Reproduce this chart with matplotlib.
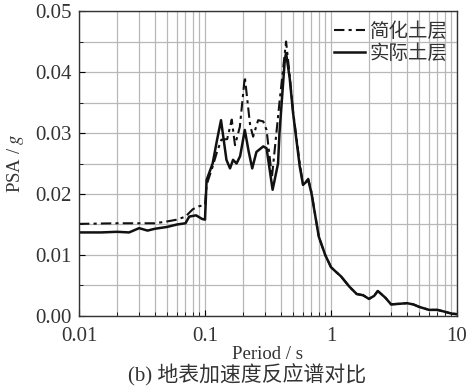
import matplotlib
matplotlib.use("Agg")
import matplotlib.pyplot as plt
from matplotlib.ticker import MultipleLocator, NullFormatter

plt.rcParams['mathtext.fontset'] = 'stix'

# 实际土层 (actual soil layers)
T_act = [0.01, 0.015, 0.02, 0.025, 0.03, 0.035, 0.04, 0.05, 0.06, 0.07, 0.075, 0.085,
         0.095, 0.1, 0.103, 0.115, 0.125, 0.134, 0.148, 0.158, 0.167, 0.178, 0.19,
         0.207, 0.222, 0.237, 0.256, 0.29, 0.308, 0.344, 0.38, 0.39, 0.43, 0.44, 0.47,
         0.5, 0.565, 0.6, 0.66, 0.7, 0.8, 0.9, 1.0, 1.1, 1.2, 1.4, 1.6, 1.8, 2.0,
         2.2, 2.35, 2.7, 3.0, 3.5, 4.0, 4.5, 5.0, 6.0, 7.0, 8.0, 9.0, 10.0]
psa_act = [0.0137, 0.0137, 0.0138, 0.0137, 0.0144, 0.0140, 0.0143, 0.0146, 0.0150,
           0.0152, 0.0163, 0.0165, 0.0159, 0.0158, 0.0223, 0.0250, 0.0290, 0.0321,
           0.0256, 0.0242, 0.0256, 0.0250, 0.0262, 0.0305, 0.0270, 0.0242, 0.0269,
           0.0278, 0.0275, 0.0207, 0.0250, 0.0300, 0.0420, 0.0431, 0.0390, 0.0333,
           0.0245, 0.0215, 0.0223, 0.0201, 0.0130, 0.0100, 0.0080, 0.0072, 0.0065,
           0.0048, 0.0036, 0.0034, 0.0028, 0.0033, 0.0041, 0.0030, 0.0019, 0.0020,
           0.0021, 0.0019, 0.0015, 0.0010, 0.0010, 0.0007, 0.0004, 0.0003]

# 简化土层 (simplified soil layers)
T_sim = [0.01, 0.02, 0.03, 0.04, 0.05, 0.06, 0.07, 0.08, 0.09, 0.1, 0.103, 0.115,
         0.125, 0.135, 0.15, 0.163, 0.173, 0.189, 0.207, 0.228, 0.241, 0.264, 0.29,
         0.308, 0.34, 0.39, 0.44, 0.47, 0.5, 0.565, 0.6, 0.66, 0.7, 0.8, 0.9, 1.0,
         1.1, 1.2, 1.4, 1.6, 1.8, 2.0, 2.2, 2.35, 2.7, 3.0, 3.5, 4.0, 4.5, 5.0, 6.0,
         7.0, 8.0, 9.0, 10.0]
psa_sim = [0.0151, 0.0152, 0.0152, 0.0152, 0.0155, 0.0158, 0.0163, 0.0175, 0.0180,
           0.0182, 0.0215, 0.0245, 0.0270, 0.0289, 0.0290, 0.0322, 0.0280, 0.0310,
           0.0392, 0.0313, 0.0294, 0.0321, 0.0319, 0.0305, 0.0228, 0.0350, 0.0450,
           0.0395, 0.0335, 0.0250, 0.0215, 0.0225, 0.0203, 0.0130, 0.0100, 0.0080,
           0.0072, 0.0065, 0.0048, 0.0036, 0.0034, 0.0028, 0.0033, 0.0041, 0.0030,
           0.0019, 0.0020, 0.0021, 0.0019, 0.0015, 0.0010, 0.0010, 0.0007, 0.0004,
           0.0003]

xticks = [0.01, 0.1, 1, 10]
xtick_labels = ['0.01', '0.1', '1', '10']
yticks = [0.00, 0.01, 0.02, 0.03, 0.04, 0.05]
ytick_labels = ['0.00', '0.01', '0.02', '0.03', '0.04', '0.05']

fig = plt.figure(figsize=(4.66, 3.88), dpi=100)
ax = fig.add_axes([0.1695, 0.1856, 0.8112, 0.786])

ax.plot(T_sim, psa_sim, color='#111111', lw=1.5, linestyle=(0, (5, 2, 1.5, 2)), label='简化土层')
ax.plot(T_act, psa_act, color='#111111', lw=1.8, linestyle='-', label='实际土层')

ax.set_xscale('log')
ax.set_xlim(0.01, 10)
ax.set_ylim(0, 0.05)
ax.set_xticks(xticks)
ax.set_xticklabels(xtick_labels)
ax.xaxis.set_minor_formatter(NullFormatter())
ax.set_yticks(yticks)
ax.set_yticklabels(ytick_labels)
ax.yaxis.set_minor_locator(MultipleLocator(0.005))

ax.grid(True, which='both', color='#b8b8b8', lw=0.9)
ax.set_axisbelow(True)
ax.tick_params(which='both', direction='in', labelsize=15, labelcolor='#333333')
ax.tick_params(which='major', length=4)
ax.tick_params(which='minor', length=3)
ax.tick_params(axis='x', which='major', pad=8)
ax.tick_params(axis='y', which='major', pad=5)
for lab in ax.get_xticklabels() + ax.get_yticklabels():
    lab.set_fontfamily('Liberation Serif')
for sp in ax.spines.values():
    sp.set_color('#333333')
    sp.set_linewidth(1.0)

ax.set_xlabel('Period / s', fontfamily='Liberation Serif', fontsize=13.5, color='#333333')
ax.xaxis.set_label_coords(0.5, -0.1)
ax.set_ylabel('PSA / $g$', fontfamily='Liberation Serif', fontsize=13.5, color='#333333')
ax.yaxis.set_label_coords(-0.14, 0.5)

leg = ax.legend(loc='upper right', frameon=False, handlelength=1.6,
                handletextpad=0.2, borderaxespad=0.2, borderpad=0.3, labelspacing=0.05,
                prop={'family': ['Noto Sans CJK SC', 'DejaVu Sans'], 'size': 14})
for t in leg.get_texts():
    t.set_color('#333333')

fig.text(0.53, 0.034, '(b) 地表加速度反应谱对比', ha='center', va='center', fontsize=15,
         family=['Liberation Serif', 'Noto Sans CJK SC'], color='#333333')

fig.savefig('out.png', dpi=100)
